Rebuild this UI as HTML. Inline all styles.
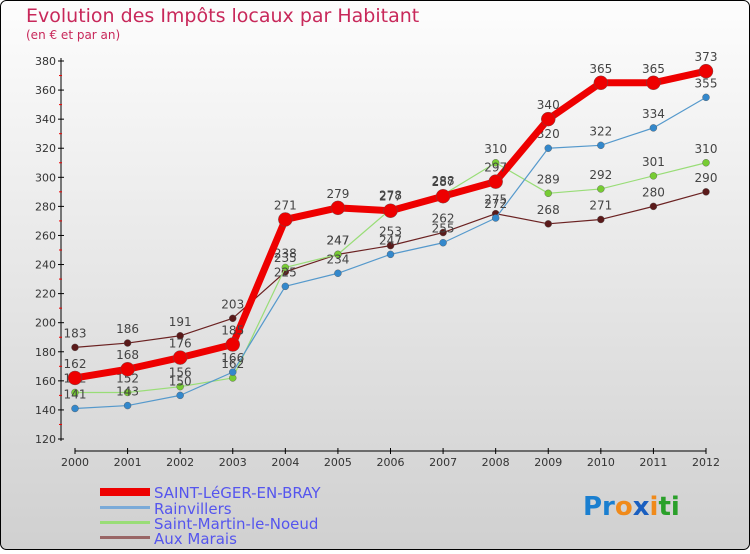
<!DOCTYPE html>
<html><head><meta charset="utf-8"><style>
html,body{margin:0;padding:0}
body{width:750px;height:550px;overflow:hidden;font-family:"DejaVu Sans","Liberation Sans",sans-serif}
</style></head><body>
<svg width="750" height="550" viewBox="0 0 750 550" xmlns="http://www.w3.org/2000/svg">
<defs><linearGradient id="bg" x1="0" y1="0" x2="0" y2="1"><stop offset="0" stop-color="#fdfdfd"/><stop offset="1" stop-color="#d0d0d0"/></linearGradient></defs>
<rect x="0.5" y="0.5" width="749" height="549" rx="6" fill="url(#bg)" stroke="#000"/>
<text x="26" y="22" font-size="19" fill="#c8285a">Evolution des Impôts locaux par Habitant</text>
<text x="26" y="39" font-size="12" fill="#c8285a">(en € et par an)</text>
<g id="axes"></g>
<g id="series"></g>
<g id="legend" font-size="15" fill="#5555ee">
<rect x="100" y="488" width="50" height="8" fill="#ee0000"/>
<text x="154" y="498">SAINT-LéGER-EN-BRAY</text>
<rect x="100" y="506" width="50" height="3" fill="#7aaad8"/>
<text x="154" y="514">Rainvillers</text>
<rect x="100" y="521" width="50" height="3" fill="#99dd77"/>
<text x="154" y="529">Saint-Martin-le-Noeud</text>
<rect x="100" y="536" width="50" height="3" fill="#996666"/>
<text x="154" y="544">Aux Marais</text>
</g>
<g font-size="26" font-weight="bold" font-family="'DejaVu Sans',sans-serif">
<text x="583" y="515"><tspan fill="#1a7fd0">Pr</tspan><tspan fill="#f08a1a">o</tspan><tspan fill="#1a5fc0">x</tspan><tspan fill="#f08a1a">i</tspan><tspan fill="#2aa02a">ti</tspan></text>
</g>
</svg>
<script>
const years=["2000","2001","2002","2003","2004","2005","2006","2007","2008","2009","2010","2011","2012"];
const yTicks=[120,140,160,180,200,220,240,260,280,300,320,340,360,380];
const saintLeger=[162,168,176,185,271,279,277,287,297,340,365,365,373];
const rainvillers=[141,143,150,166,225,234,247,255,272,320,322,334,355];
const saintMartin=[152,152,156,162,238,247,278,288,310,289,292,301,310];
const auxMarais=[183,186,191,203,235,247,253,262,275,268,271,280,290];
const NS="http://www.w3.org/2000/svg";
const xs=i=>75+i*(706-75)/12;
const ys=v=>439-(v-120)*(439-61)/260;
function mk(tag,attrs,parent){const e=document.createElementNS(NS,tag);for(const k in attrs)e.setAttribute(k,attrs[k]);parent.appendChild(e);return e;}
const ax=document.getElementById('axes');
let l=mk('line',{x1:61,y1:58,x2:61,y2:441,stroke:'#000','stroke-width':1},ax);


l=mk('line',{x1:75,y1:451,x2:706,y2:451,stroke:'#000','stroke-width':1},ax);


yTicks.forEach((v,i)=>{
  mk('line',{x1:58,x2:64,y1:ys(v),y2:ys(v),stroke:'#000'},ax);
  if(i<yTicks.length-1)mk('line',{x1:59,x2:62,y1:ys(v+10),y2:ys(v+10),stroke:'#e00'},ax);
  const t=mk('text',{x:56,y:ys(v)+4,'text-anchor':'end','font-size':11,fill:'#333'},ax);
  t.textContent=v;
  
  
});
years.forEach((y,i)=>{
  mk('line',{x1:xs(i),x2:xs(i),y1:448,y2:454,stroke:'#000'},ax);
  const t=mk('text',{x:xs(i),y:466,'text-anchor':'middle','font-size':11,fill:'#333'},ax);
  t.textContent=y;
  
  
});
const sg=document.getElementById('series');
const defs=[
 [auxMarais,'#6b2222','#5a1a1a',1.2,3.5,'aux-marais'],
 [saintMartin,'#99dd77','#77cc33',1.2,3.5,'saint-martin'],
 [rainvillers,'#5599cc','#3388cc',1.2,3.5,'rainvillers'],
 [saintLeger,'#ee0000','#ee0000',7,7,'saint-leger']
];
defs.forEach(([vals,lc,pc,w,r,name])=>{
  const g=mk('g',{},sg);
  
  
  const p=mk('polyline',{points:vals.map((v,i)=>xs(i)+','+ys(v)).join(' '),fill:'none',stroke:lc,'stroke-width':w,'stroke-linejoin':'round'},g);
  
  
  vals.forEach((v,i)=>{
    const c=mk('circle',{cx:xs(i),cy:ys(v),r:r,fill:pc,stroke:'#555','stroke-width':0.4},g);
    
    
    const t=mk('text',{x:xs(i),y:ys(v)-10,'text-anchor':'middle','font-size':12,fill:'#444'},g);
    t.textContent=v;
    
    
  });
});
</script>
</body></html>
